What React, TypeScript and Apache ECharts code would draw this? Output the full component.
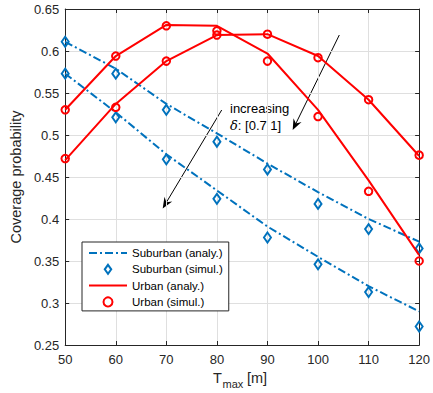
import React, { useEffect, useRef } from 'react';
import * as echarts from 'echarts';

const tmax = [50, 60, 70, 80, 90, 100, 110, 120];
const suburbanAnaly1 = [0.611, 0.579, 0.537, 0.502, 0.466, 0.432, 0.4, 0.373];
const suburbanSimul1 = [0.611, 0.573, 0.53, 0.492, 0.459, 0.418, 0.388, 0.365];
const suburbanAnaly2 = [0.573, 0.527, 0.477, 0.434, 0.391, 0.355, 0.32, 0.29];
const suburbanSimul2 = [0.573, 0.521, 0.471, 0.424, 0.378, 0.346, 0.313, 0.272];
const urbanAnaly1 = [0.53, 0.594, 0.631, 0.63, 0.597, 0.53, 0.446, 0.357];
const urbanSimul1 = [0.53, 0.594, 0.63, 0.624, 0.588, 0.522, 0.433, 0.35];
const urbanAnaly2 = [0.47, 0.537, 0.588, 0.619, 0.62, 0.594, 0.542, 0.475];
const urbanSimul2 = [0.472, 0.533, 0.588, 0.619, 0.62, 0.592, 0.542, 0.476];

const names = ['Suburban (analy.)', 'Suburban (simul.)', 'Urban (analy.)', 'Urban (simul.)'];
const annotation1 = 'increasing';
const annotation2 = '{d|δ}: [0.7 1]';

const BLUE = '#0072BD';
const RED = '#FF0000';
const TXT = '#262626';
const FONT = '"Liberation Sans", Arial, Helvetica, sans-serif';
const CLEAR = 'rgba(255,255,255,0)';

const pts = (ys: number[]) => tmax.map((x, i) => [x, ys[i]]);

function arrow(sx: number, sy: number, tx: number, ty: number) {
  const dx = tx - sx, dy = ty - sy;
  const len = Math.hypot(dx, dy);
  const ux = dx / len, uy = dy / len;
  const nx = -uy, ny = ux;
  const L = 11, W = 4.5;
  return [
    {
      type: 'line',
      shape: { x1: sx, y1: sy, x2: tx - ux * L * 0.6, y2: ty - uy * L * 0.6 },
      style: { stroke: '#000', lineWidth: 1 },
    },
    {
      type: 'polygon',
      shape: {
        points: [
          [tx, ty],
          [tx - ux * L + nx * W, ty - uy * L + ny * W],
          [tx - ux * L * 0.65, ty - uy * L * 0.65],
          [tx - ux * L - nx * W, ty - uy * L - ny * W],
        ],
      },
      style: { fill: '#000' },
    },
  ];
}

export default function App() {
  const ref = useRef<HTMLDivElement>(null);
  useEffect(() => {
    const chart = echarts.init(ref.current!, undefined, { renderer: 'svg' });
    const lineSeries = (name: string, ys: number[], color: string, type: any) => ({
      name,
      type: 'line',
      data: pts(ys),
      symbol: 'none',
      lineStyle: { color, width: 2, type },
      itemStyle: { color },
      z: color === RED ? 4 : 2,
    });
    const scatterSeries = (name: string, ys: number[], color: string, symbol: string, size: any) => ({
      name,
      type: 'scatter',
      data: pts(ys),
      symbol,
      symbolSize: size,
      itemStyle: { color: CLEAR, borderColor: color, borderWidth: 2, opacity: 1 },
      z: color === RED ? 5 : 3,
    });
    const dashDot = [8, 3, 2, 3];
    const axisCommon = {
      type: 'value',
      axisLine: { show: true, lineStyle: { color: TXT, width: 1 } },
      axisTick: { show: true, inside: true, length: 4, lineStyle: { color: TXT } },
    };
    chart.setOption({
      animation: false,
      backgroundColor: '#fff',
      textStyle: { fontFamily: FONT },
      grid: { left: 59, top: 9, width: 363, height: 336, containLabel: false },
      xAxis: [
        {
          ...axisCommon,
          min: 50,
          max: 120,
          interval: 10,
          position: 'bottom',
          axisLabel: { fontSize: 13, color: TXT, margin: 8, fontFamily: FONT },
          splitLine: { show: true, lineStyle: { color: '#dfdfdf', width: 1 } },
        },
        {
          ...axisCommon,
          min: 50,
          max: 120,
          interval: 10,
          position: 'top',
          axisLabel: { show: false },
          splitLine: { show: false },
        },
      ],
      yAxis: [
        {
          ...axisCommon,
          min: 0.25,
          max: 0.65,
          interval: 0.05,
          position: 'left',
          name: 'Coverage probability',
          nameLocation: 'middle',
          nameGap: 36,
          nameTextStyle: { fontSize: 14.5, color: TXT, fontFamily: FONT },
          axisLabel: { fontSize: 13, color: TXT, margin: 6, fontFamily: FONT },
          splitLine: { show: true, lineStyle: { color: '#dfdfdf', width: 1 } },
        },
        {
          ...axisCommon,
          min: 0.25,
          max: 0.65,
          interval: 0.05,
          position: 'right',
          axisLabel: { show: false },
          splitLine: { show: false },
        },
      ],
      legend: {
        orient: 'vertical',
        left: 82,
        top: 242,
        itemWidth: 38,
        itemHeight: 9,
        itemGap: 4.3,
        padding: [5, 6, 3, 6],
        backgroundColor: '#fff',
        borderColor: TXT,
        borderWidth: 1,
        borderRadius: 0,
        textStyle: { fontSize: 11.5, color: '#000', fontFamily: FONT },
        data: [
          { name: names[0], itemStyle: { color: CLEAR, borderColor: CLEAR, borderWidth: 0 } },
          {
            name: names[1],
            icon: 'path://M0,-5L3.6,0L0,5L-3.6,0Z',
            itemStyle: { color: CLEAR, borderColor: BLUE, borderWidth: 2 },
          },
          { name: names[2], itemStyle: { color: CLEAR, borderColor: CLEAR, borderWidth: 0 } },
          { name: names[3], icon: 'circle', itemStyle: { color: CLEAR, borderColor: RED, borderWidth: 2 } },
        ],
      },
      series: [
        lineSeries(names[0], suburbanAnaly1, BLUE, dashDot),
        lineSeries(names[0], suburbanAnaly2, BLUE, dashDot),
        scatterSeries(names[1], suburbanSimul1, BLUE, 'diamond', [7, 10]),
        scatterSeries(names[1], suburbanSimul2, BLUE, 'diamond', [7, 10]),
        lineSeries(names[2], urbanAnaly1, RED, 'solid'),
        lineSeries(names[2], urbanAnaly2, RED, 'solid'),
        scatterSeries(names[3], urbanSimul1, RED, 'circle', 7.5),
        scatterSeries(names[3], urbanSimul2, RED, 'circle', 7.5),
      ],
      graphic: [
        ...arrow(339.3, 35, 292.7, 130),
        ...arrow(221.7, 110, 162.7, 208.5),
        {
          type: 'text',
          left: 230,
          top: 102,
          style: { text: annotation1, fontSize: 13, fill: '#000', fontFamily: FONT },
        },
        {
          type: 'text',
          left: 230,
          top: 119,
          style: {
            text: annotation2,
            fontSize: 13,
            fill: '#000',
            fontFamily: FONT,
            rich: { d: { fontFamily: '"DejaVu Serif", "Liberation Serif", serif', fontStyle: 'italic', fontSize: 13 } },
          },
        },
        {
          type: 'text',
          left: 213,
          top: 370,
          style: { text: 'T', fontSize: 14.5, fill: TXT, fontFamily: FONT },
        },
        {
          type: 'text',
          left: 222.5,
          top: 378,
          style: { text: 'max', fontSize: 11, fill: TXT, fontFamily: FONT },
        },
        {
          type: 'text',
          left: 247,
          top: 370,
          style: { text: '[m]', fontSize: 14.5, fill: TXT, fontFamily: FONT },
        },
      ],
    });
    return () => chart.dispose();
  }, []);
  return <div ref={ref} style={{ position: 'fixed', left: 0, top: 0, width: 433, height: 393 }} />;
}
